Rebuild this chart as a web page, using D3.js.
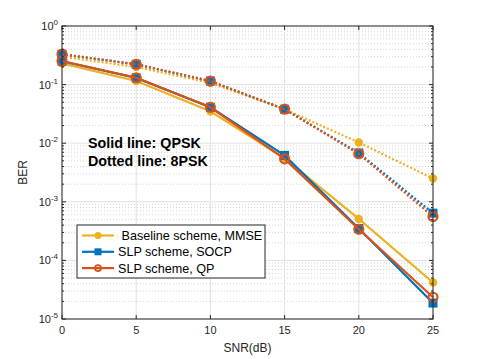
<!DOCTYPE html>
<html lang="en">
<head>
<meta charset="utf-8">
<style>
  body { margin: 0; background: #fff; }
  text { font-family: "Liberation Sans", Arial, sans-serif; }
</style>
<script src="https://cdn.jsdelivr.net/npm/d3@7/dist/d3.min.js"></script>
</head>
<body>
<div id="chart"></div>
<script>
var snr = [0, 5, 10, 15, 20, 25];

// QPSK (solid)
var baseQpsk = [0.23, 0.115, 0.035, 0.0055, 5.1e-4, 4.2e-5];
var socpQpsk = [0.25, 0.13, 0.041, 0.0062, 3.5e-4, 1.87e-5];
var qpQpsk   = [0.253, 0.131, 0.041, 0.0054, 3.4e-4, 2.35e-5];
// 8PSK (dotted)
var base8psk = [0.30, 0.20, 0.107, 0.038, 0.0103, 2.5e-3];
var socp8psk = [0.33, 0.222, 0.115, 0.038, 0.0068, 6.4e-4];
var qp8psk   = [0.33, 0.222, 0.115, 0.038, 0.0066, 5.6e-4];

var xTicks = [0, 5, 10, 15, 20, 25];
var yTicks = [1e-5, 1e-4, 1e-3, 1e-2, 1e-1, 1];
var legendNames = [" Baseline scheme, MMSE", "SLP scheme, SOCP", "SLP scheme, QP"];

var width = 478, height = 359;
var m = {left: 62, right: 45, top: 26, bottom: 40};

var svg = d3.select("#chart").append("svg")
  .attr("width", width).attr("height", height);

var x = d3.scaleLinear().domain([0, 25]).range([m.left, width - m.right]);
var y = d3.scaleLog().domain([1e-5, 1]).range([height - m.bottom, m.top]);

var x0 = x.range()[0], x1 = x.range()[1], y0 = y.range()[0], y1 = y.range()[1];

// minor grid
var minor = [];
for (var e = -5; e < 0; e++) for (var k = 2; k <= 9; k++) minor.push(k * Math.pow(10, e));
svg.append("g").selectAll("line").data(minor).enter().append("line")
  .attr("x1", x0).attr("x2", x1)
  .attr("y1", function(d){ return y(d); }).attr("y2", function(d){ return y(d); })
  .attr("stroke", "#d4d4d4").attr("stroke-width", 1).attr("stroke-dasharray", "1,2");

// major grid
svg.append("g").selectAll("line").data(yTicks).enter().append("line")
  .attr("x1", x0).attr("x2", x1)
  .attr("y1", function(d){ return y(d); }).attr("y2", function(d){ return y(d); })
  .attr("stroke", "#e2e2e2").attr("stroke-width", 1);
svg.append("g").selectAll("line").data(xTicks).enter().append("line")
  .attr("y1", y0).attr("y2", y1)
  .attr("x1", function(d){ return x(d); }).attr("x2", function(d){ return x(d); })
  .attr("stroke", "#e2e2e2").attr("stroke-width", 1);

var colors = ["#EDB120", "#0072BD", "#D95319"];

var line = d3.line()
  .x(function(d, i){ return x(snr[i]); })
  .y(function(d){ return y(d); });

var series = [
  {v: base8psk, c: 0, dash: "2,2", marker: "dot"},
  {v: socp8psk, c: 1, dash: "2,2", marker: "square"},
  {v: qp8psk,   c: 2, dash: "2,2", marker: "circle"},
  {v: baseQpsk, c: 0, dash: null, marker: "dot"},
  {v: socpQpsk, c: 1, dash: null, marker: "square"},
  {v: qpQpsk,   c: 2, dash: null, marker: "circle"}
];

function drawMarker(g, type, cx, cy, col) {
  if (type === "dot") {
    g.append("circle").attr("cx", cx).attr("cy", cy).attr("r", 4.2).attr("fill", col);
  } else if (type === "square") {
    g.append("rect").attr("x", cx - 4.5).attr("y", cy - 4.5).attr("width", 9).attr("height", 9).attr("fill", col);
  } else {
    g.append("circle").attr("cx", cx).attr("cy", cy).attr("r", 4.5)
      .attr("fill", "none").attr("stroke", col).attr("stroke-width", 2.2);
  }
}

series.forEach(function(s) {
  var col = colors[s.c];
  var g = svg.append("g");
  g.append("path").datum(s.v).attr("d", line)
    .attr("fill", "none").attr("stroke", col).attr("stroke-width", 2.2)
    .attr("stroke-dasharray", s.dash);
  s.v.forEach(function(d, i){ drawMarker(g, s.marker, x(snr[i]), y(d), col); });
});

// axes box
var axCol = "#262626";
svg.append("rect").attr("x", x0).attr("y", y1).attr("width", x1 - x0).attr("height", y0 - y1)
  .attr("fill", "none").attr("stroke", axCol).attr("stroke-width", 1);

// x ticks
xTicks.forEach(function(t) {
  svg.append("line").attr("x1", x(t)).attr("x2", x(t)).attr("y1", y0).attr("y2", y0 - 4).attr("stroke", axCol);
  svg.append("line").attr("x1", x(t)).attr("x2", x(t)).attr("y1", y1).attr("y2", y1 + 4).attr("stroke", axCol);
  svg.append("text").attr("x", x(t)).attr("y", y0 + 15).attr("text-anchor", "middle")
    .attr("font-size", 11).attr("fill", axCol).text(t);
});

// y ticks
minor.forEach(function(t) {
  svg.append("line").attr("x1", x0).attr("x2", x0 + 2).attr("y1", y(t)).attr("y2", y(t)).attr("stroke", axCol);
  svg.append("line").attr("x1", x1).attr("x2", x1 - 2).attr("y1", y(t)).attr("y2", y(t)).attr("stroke", axCol);
});
yTicks.forEach(function(t) {
  var e = Math.round(Math.log10(t));
  svg.append("line").attr("x1", x0).attr("x2", x0 + 4).attr("y1", y(t)).attr("y2", y(t)).attr("stroke", axCol);
  svg.append("line").attr("x1", x1).attr("x2", x1 - 4).attr("y1", y(t)).attr("y2", y(t)).attr("stroke", axCol);
  var txt = svg.append("text").attr("x", x0 - 4).attr("y", y(t) + 4).attr("text-anchor", "end")
    .attr("font-size", 11).attr("fill", axCol);
  txt.append("tspan").text("10");
  txt.append("tspan").attr("dy", -5).attr("font-size", 8).text(e);
});

// axis labels
svg.append("text").attr("x", (x0 + x1) / 2).attr("y", y0 + 33).attr("text-anchor", "middle")
  .attr("font-size", 12).attr("fill", axCol).text("SNR(dB)");
svg.append("text").attr("transform", "translate(27," + ((y0 + y1) / 2) + ") rotate(-90)")
  .attr("text-anchor", "middle").attr("font-size", 12).attr("fill", axCol).text("BER");

// annotation
svg.append("text").attr("x", 88).attr("y", 148).attr("font-size", 14.3).attr("font-weight", "bold")
  .attr("fill", "#000").text("Solid line: QPSK");
svg.append("text").attr("x", 88).attr("y", 166).attr("font-size", 14.3).attr("font-weight", "bold")
  .attr("fill", "#000").text("Dotted line: 8PSK");

// legend
var lg = svg.append("g");
lg.append("rect").attr("x", 77).attr("y", 225).attr("width", 188).attr("height", 53)
  .attr("fill", "#fff").attr("stroke", axCol).attr("stroke-width", 1);
var mk = ["dot", "square", "circle"];
legendNames.forEach(function(name, i) {
  var ly = 235.5 + i * 16.3;
  lg.append("line").attr("x1", 82).attr("x2", 114).attr("y1", ly).attr("y2", ly)
    .attr("stroke", colors[i]).attr("stroke-width", 2.2);
  var sg = lg.append("g");
  if (mk[i] === "dot") sg.append("circle").attr("cx", 98).attr("cy", ly).attr("r", 3.5).attr("fill", colors[i]);
  else if (mk[i] === "square") sg.append("rect").attr("x", 94.5).attr("y", ly - 3.5).attr("width", 7).attr("height", 7).attr("fill", colors[i]);
  else sg.append("circle").attr("cx", 98).attr("cy", ly).attr("r", 3).attr("fill", "none").attr("stroke", colors[i]).attr("stroke-width", 1.8);
  lg.append("text").attr("x", 118).attr("y", ly + 4.5).attr("font-size", 12.6).attr("fill", "#000")
    .attr("xml:space", "preserve").style("white-space", "pre").text(name);
});
</script>
</body>
</html>
